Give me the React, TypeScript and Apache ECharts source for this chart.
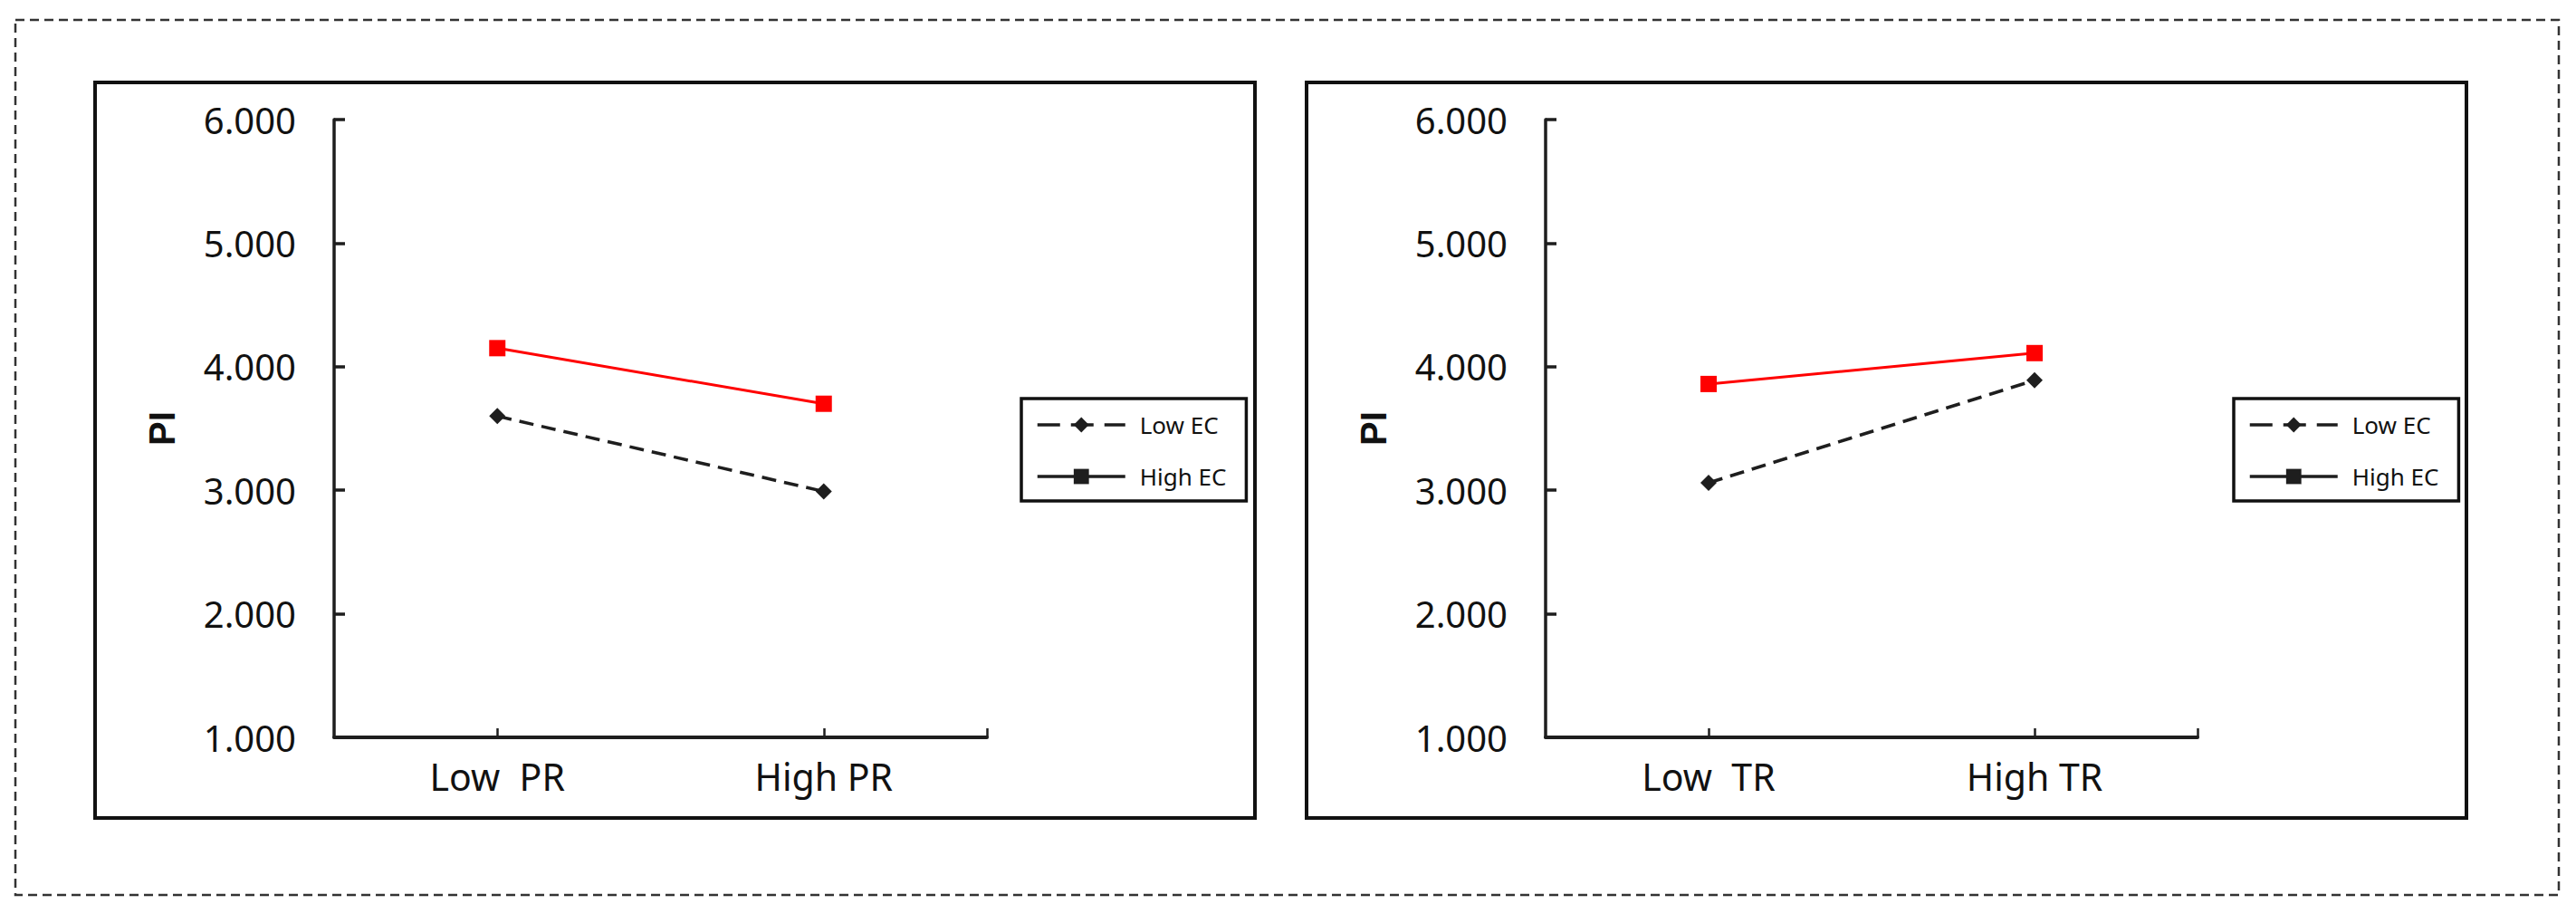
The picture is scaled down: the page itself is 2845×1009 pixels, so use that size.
import React, { useEffect, useRef } from "react";
import * as echarts from "echarts";

const categoriesPR = ["Low  PR", "High PR"];
const categoriesTR = ["Low  TR", "High TR"];
const seriesNames = ["Low EC", "High EC"];
const prLowEC = [3.6, 2.99];
const prHighEC = [4.15, 3.7];
const trLowEC = [3.06, 3.89];
const trHighEC = [3.86, 4.11];
const yMin = 1;
const yMax = 6;
const yInterval = 1;
const yName = "PI";

const FONT = "Noto Sans";
const BLACK = "#1e1e1e";
const RED = "#ff0000";

function toPoints(vals: number[]) {
  return vals.map((v, i) => [i + 0.5, v]);
}

export default function App() {
  const ref = useRef<HTMLDivElement>(null);
  useEffect(() => {
    document.body.style.margin = "0";
    const chart = echarts.init(ref.current!, null, { renderer: "svg" });

    const grids = [
      { left: 369, top: 132, width: 721, height: 682 },
      { left: 1707, top: 132, width: 720, height: 682 },
    ];
    const cats = [categoriesPR, categoriesTR];

    const xAxes = cats.map((c, gi) => ({
      type: "value",
      gridIndex: gi,
      min: 0,
      max: c.length,
      splitLine: { show: false },
      axisLine: { show: true, lineStyle: { color: BLACK, width: 4 } },
      axisTick: {
        show: true,
        inside: true,
        length: 10,
        lineStyle: { color: BLACK, width: 2.5 },
        customValues: [...c.map((_, i) => i + 0.5), c.length],
      },
      axisLabel: {
        show: true,
        customValues: c.map((_, i) => i + 0.5),
        formatter: (v: number) => c[Math.floor(v)] ?? "",
        fontSize: 41,
        color: "#111",
        fontFamily: FONT,
        margin: 22,
      },
    }));

    const yAxes = cats.map((_, gi) => ({
      type: "value",
      gridIndex: gi,
      min: yMin,
      max: yMax,
      interval: yInterval,
      name: yName,
      nameLocation: "middle",
      nameGap: 170,
      nameTextStyle: { fontSize: 40, fontWeight: "bold", color: "#111", fontFamily: "Liberation Sans" },
      splitLine: { show: false },
      axisLine: { show: true, lineStyle: { color: BLACK, width: 3.5 } },
      axisTick: { show: true, inside: true, length: 12, lineStyle: { color: BLACK, width: 3.5 } },
      axisLabel: {
        formatter: (v: number) => v.toFixed(3),
        fontSize: 40,
        color: "#111",
        fontFamily: FONT,
        margin: 42,
      },
    }));

    const mkLow = (vals: number[], gi: number) => ({
      name: seriesNames[0],
      type: "line",
      xAxisIndex: gi,
      yAxisIndex: gi,
      data: toPoints(vals),
      symbol: "diamond",
      symbolSize: 18,
      itemStyle: { color: BLACK },
      lineStyle: { color: BLACK, width: 3.5, type: [16, 9] },
    });
    const mkHigh = (vals: number[], gi: number) => ({
      name: seriesNames[1],
      type: "line",
      xAxisIndex: gi,
      yAxisIndex: gi,
      data: toPoints(vals),
      symbol: "rect",
      symbolSize: 18,
      itemStyle: { color: RED },
      lineStyle: { color: RED, width: 3 },
    });

    const mkLegend = (left: number) => ({
      orient: "vertical",
      left,
      top: 440,
      width: 200,
      padding: [16, 22, 14, 16],
      borderColor: "#111",
      borderWidth: 3.5,
      borderRadius: 0,
      itemWidth: 97,
      itemHeight: 21,
      itemGap: 31,
      textStyle: { fontSize: 26, color: "#111", fontFamily: FONT, padding: [0, 0, 0, 11] },
      data: [
        {
          name: seriesNames[0],
          itemStyle: { color: BLACK },
          lineStyle: { color: BLACK, width: 3.5, type: [25, 12] },
        },
        {
          name: seriesNames[1],
          itemStyle: { color: BLACK },
          lineStyle: { color: BLACK, width: 3.5, type: "solid" },
        },
      ],
    });

    chart.setOption({
      animation: false,
      backgroundColor: "#fff",
      textStyle: { fontFamily: FONT },
      grid: grids,
      xAxis: xAxes,
      yAxis: yAxes,
      legend: [mkLegend(1128), mkLegend(2467)],
      series: [
        mkLow(prLowEC, 0),
        mkHigh(prHighEC, 0),
        mkLow(trLowEC, 1),
        mkHigh(trHighEC, 1),
      ],
      graphic: [
        {
          type: "rect",
          shape: { x: 17, y: 22, width: 2809, height: 966 },
          style: { fill: "none", stroke: "#333", lineWidth: 2.5, lineDash: [10, 6] },
          silent: true,
        },
        {
          type: "rect",
          shape: { x: 105, y: 91, width: 1281, height: 812 },
          style: { fill: "none", stroke: "#111", lineWidth: 4 },
          silent: true,
        },
        {
          type: "rect",
          shape: { x: 1443, y: 91, width: 1281, height: 812 },
          style: { fill: "none", stroke: "#111", lineWidth: 4 },
          silent: true,
        },
      ],
    });
    return () => chart.dispose();
  }, []);
  return <div ref={ref} style={{ width: 2845, height: 1009 }} />;
}
